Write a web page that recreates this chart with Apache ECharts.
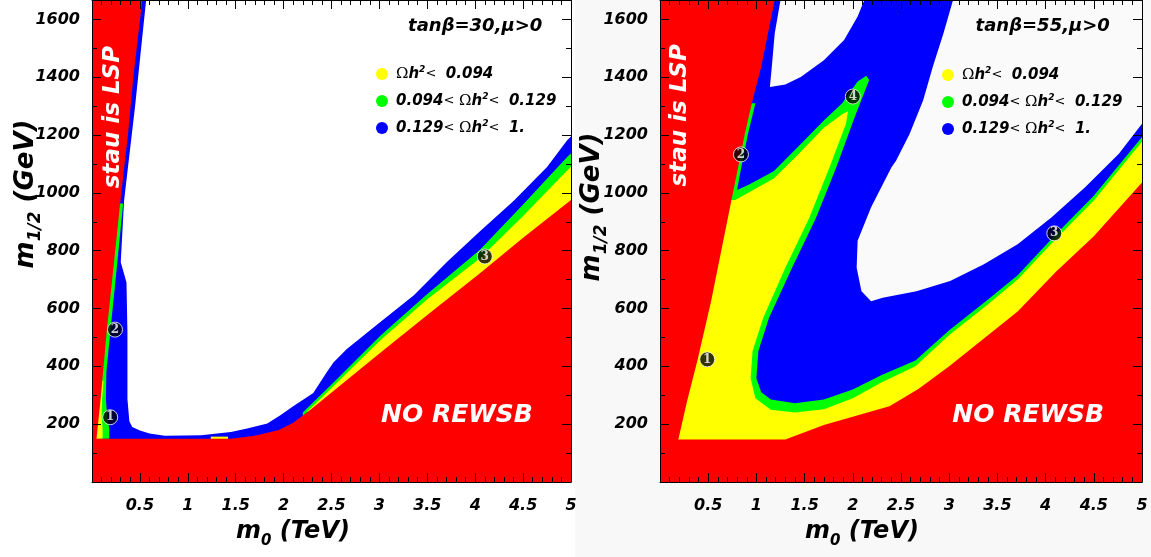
<!DOCTYPE html>
<html><head><meta charset="utf-8">
<script src="https://cdn.jsdelivr.net/npm/echarts@6/dist/echarts.min.js"></script>
<style>html,body{margin:0;padding:0;background:#fff}#c{width:1151px;height:557px}</style>
</head><body><div id="c"></div>
<script>
// ---------- axis ranges and tick labels ----------
const X_RANGE = [0, 5];
const Y_RANGE = [0, 1667];
const X_TICK_LABELS = ['0.5','1','1.5','2','2.5','3','3.5','4','4.5','5'];
const Y_TICK_LABELS = ['200','400','600','800','1000','1200','1400','1600'];
const LEG_NAMES = ['Ωh2 < 0.094', '0.094 < Ωh2 < 0.129', '0.129 < Ωh2 < 1.'];

// ---------- left panel (tanβ=30) region boundaries, [m0 TeV, m1/2 GeV] ----------
const L_blue = [[[0,0],[5,0],[5,1667],[0,1667]]];
const L_white = [[[0.565,1667],[0.45,1300],[0.335,974],[0.30,760],[0.33,725],[0.36,690],[0.37,515],[0.37,286],[0.39,210],[0.42,190],[0.5,178],[0.6,168],[0.76,160],[1.14,162],[1.45,173],[1.62,185],[1.83,202],[1.97,232],[2.1,262],[2.31,308],[2.45,380],[2.52,413],[2.66,460],[3.01,553],[3.36,646],[3.71,763],[4.05,867],[4.40,972],[4.75,1089],[4.96,1182],[5,1195],[5,1667]]];
const L_green = [
  [[0,150],[0,963],[0.325,963],[0.26,745],[0.19,515],[0.15,380],[0.145,286],[0.16,220],[0.18,185],[0.18,150]],
  [[2.2,0],[2.2,240],[2.5,337],[3.01,506],[3.5,650],[4.05,803],[4.5,960],[4.96,1124],[5,1137],[5,0]]
];
const L_yellow = [
  [[0,150],[0,350],[0.12,350],[0.105,286],[0.10,230],[0.11,185],[0.11,150]],
  [[2.25,0],[2.25,245],[2.5,325],[3.01,490],[3.5,632],[4.05,774],[4.5,920],[4.96,1077],[5,1090],[5,0]],
  [[1.24,145],[1.24,157],[1.42,157],[1.42,145]]
];
const L_red = [[[0,0],[5,0],[5,975],[4.5,845],[4.05,722],[3.5,578],[3.0,444],[2.28,250],[2.1,205],[1.95,180],[1.7,160],[1.45,150],[0.047,150],[0.09,286],[0.152,515],[0.225,745],[0.297,974],[0.375,1200],[0.433,1406],[0.525,1667],[0,1667]]];
const L_points = [[0.19,224,'1'],[0.24,527,'2'],[4.10,780,'3']];

// ---------- right panel (tanβ=55) region boundaries ----------
const R_blue = [[[0,0],[5,0],[5,1667],[0,1667]]];
const R_white = [
  [[1.25,1667],[1.19,1551],[1.16,1436],[1.14,1366],[1.30,1375],[1.46,1401],[1.70,1459],[1.91,1529],[2.05,1610],[2.12,1667]],
  [[3.04,1667],[2.94,1551],[2.83,1436],[2.73,1320],[2.59,1204],[2.45,1112],[2.40,1088],[2.19,950],[2.05,834],[2.04,741],[2.09,660],[2.19,625],[2.31,637],[2.66,660],[3.01,695],[3.36,753],[3.71,822],[4.06,915],[4.41,1019],[4.76,1135],[5,1239],[5,1667]]
];
const R_green = [[[0,0],[0,1310],[0.99,1310],[0.91,1200],[0.85,1100],[0.81,1030],[0.80,1010],[0.93,1030],[1.18,1075],[1.42,1155],[1.70,1250],[1.89,1310],[2.05,1385],[2.14,1405],[2.17,1390],[2.02,1262],[1.83,1089],[1.62,915],[1.37,741],[1.13,567],[1.02,452],[1.0,359],[1.05,310],[1.15,285],[1.4,272],[1.7,285],[2.0,320],[2.3,370],[2.65,420],[3.0,525],[3.4,630],[3.71,715],[4.11,858],[4.5,990],[5,1193],[5,0]]];
const R_yellow = [[[0,0],[0,975],[0.78,975],[0.93,1003],[1.18,1050],[1.42,1128],[1.70,1225],[1.89,1272],[1.95,1282],[1.93,1240],[1.76,1089],[1.55,915],[1.30,741],[1.07,567],[0.96,452],[0.94,359],[0.99,290],[1.15,250],[1.4,240],[1.7,252],[2.0,290],[2.3,345],[2.65,400],[3.0,508],[3.4,614],[3.71,700],[4.11,842],[4.5,974],[5,1178],[5,0]]];
const R_red = [[[0,0],[5,0],[5,1036],[4.5,850],[4.11,728],[3.71,590],[3.0,400],[2.68,322],[2.38,262],[1.70,197],[1.30,147],[0.19,147],[0.28,278],[0.39,423],[0.53,625],[0.67,857],[0.74,973],[0.81,1088],[0.88,1204],[0.96,1320],[1.05,1436],[1.19,1667],[0,1667]]];
const R_points = [[0.49,424,'1'],[0.84,1133,'2'],[4.09,860,'3'],[2.0,1333,'4']];

// ---------- annotations (data coordinates) ----------
const L_notes = {stau:[0.22,1262], rewsb:[3.81,230], title:[4.0,1575], titleText:'tanβ=30,μ>0'};
const R_notes = {stau:[0.21,1268], rewsb:[3.82,230], title:[3.97,1575], titleText:'tanβ=55,μ>0'};

const COLORS = {red:'#ff0000', yellow:'#ffff00', green:'#00ff00', blue:'#0000ff', white:'#ffffff', white2:'#fafafa'};
const FONT = 'DejaVu Sans';

function polySeries(name, polys, color, gi){
  return {
    type:'custom', name: name, xAxisIndex: gi*2, yAxisIndex: gi*2, coordinateSystem:'cartesian2d',
    silent:true, animation:false, clip:true, itemStyle:{color:color},
    data: polys.map(p => p[0]),
    renderItem: function(params, api){
      const poly = polys[params.dataIndex];
      return {type:'polygon', shape:{points: poly.map(pt => api.coord(pt))}, style:{fill:color, stroke:null}};
    }
  };
}
function pointSeries(pts, gi){
  return {
    type:'scatter', xAxisIndex: gi*2, yAxisIndex: gi*2, z:5, silent:true, symbol:'circle', symbolSize:15,
    itemStyle:{color:'#000', borderColor:'#fff', borderWidth:1},
    label:{show:true, position:'inside', formatter: p => p.data[2], color:'#fff', fontWeight:'bold', fontSize:12, fontFamily:'DejaVu Serif'},
    data: pts
  };
}
const labelStyle = {color:'#000', fontSize:16, fontWeight:'bold', fontStyle:'italic', fontFamily:FONT};
function mkX(gi, pos, show){
  return {type:'value', gridIndex:gi, position:pos, min:X_RANGE[0], max:X_RANGE[1], interval:0.5, z:10,
    axisLine:{show:true, onZero:false, lineStyle:{color:'#000', width:1}},
    axisTick:{show:true, inside:true, length:9, lineStyle:{color:'#000'}},
    minorTick:{show:true, splitNumber:5, length:5, lineStyle:{color:'#000'}},
    splitLine:{show:false}, minorSplitLine:{show:false},
    axisLabel: Object.assign({show:show, margin:16, formatter: v => { const s = String(+v.toFixed(2)); return X_TICK_LABELS.includes(s) ? s : ''; }}, labelStyle)
  };
}
function mkY(gi, pos, show){
  return {type:'value', gridIndex:gi, position:pos, min:Y_RANGE[0], max:Y_RANGE[1], interval:200, z:10,
    axisLine:{show:true, onZero:false, lineStyle:{color:'#000', width:1}},
    axisTick:{show:true, inside:true, length:9, lineStyle:{color:'#000'}},
    minorTick:{show:true, splitNumber:2, length:5, lineStyle:{color:'#000'}},
    splitLine:{show:false}, minorSplitLine:{show:false},
    axisLabel: Object.assign({show:show, margin:12, showMaxLabel:false, formatter: v => { const s = String(Math.round(v)); return (Y_TICK_LABELS.includes(s) && Math.abs(v-Math.round(v))<1e-6) ? s : ''; }}, labelStyle)
  };
}
const LEG_RICH = [
  '{om|Ω}{b|h}{sup|2}{r|<}  {b|0.094}',
  '{b|0.094}{r|<} {om|Ω}{b|h}{sup|2}{r|<}  {b|0.129}',
  '{b|0.129}{r|<} {om|Ω}{b|h}{sup|2}{r|<}  {b|1.}'
];
const RICH = {
  b:{fontFamily:FONT, fontWeight:'bold', fontStyle:'italic', fontSize:15, lineHeight:18, color:'#000'},
  om:{fontFamily:'DejaVu Serif', fontSize:15, lineHeight:18, color:'#000'},
  r:{fontFamily:FONT, fontSize:13, lineHeight:18, color:'#000'},
  sup:{fontFamily:FONT, fontWeight:'bold', fontStyle:'italic', fontSize:9, lineHeight:18, verticalAlign:'top', color:'#000'}
};
function mkLegend(left, top){
  return {left:left, top:top, orient:'vertical', icon:'circle', itemWidth:12, itemHeight:12, itemGap:9,
    selectedMode:false, data:LEG_NAMES, formatter: n => LEG_RICH[LEG_NAMES.indexOf(n)],
    textStyle:{fontFamily:FONT, fontSize:15, lineHeight:18, rich:RICH, padding:[0,0,0,3]}};
}

const chart = echarts.init(document.getElementById('c'), null, {renderer:'canvas'});
chart.setOption({
  animation:false, backgroundColor:'#ffffff',
  grid:[{left:92, top:0, width:479, height:482},{left:660, top:0, width:482, height:482}],
  xAxis:[mkX(0,'bottom',true), mkX(0,'top',false), mkX(1,'bottom',true), mkX(1,'top',false)],
  yAxis:[mkY(0,'left',true), mkY(0,'right',false), mkY(1,'left',true), mkY(1,'right',false)],
  legend:[mkLegend(371,60), mkLegend(937,61)],
  series:[
    polySeries(LEG_NAMES[2], L_blue, COLORS.blue, 0),
    polySeries('white', L_white, COLORS.white, 0),
    polySeries(LEG_NAMES[1], L_green, COLORS.green, 0),
    polySeries(LEG_NAMES[0], L_yellow, COLORS.yellow, 0),
    polySeries('red', L_red, COLORS.red, 0),
    pointSeries(L_points, 0),
    polySeries(LEG_NAMES[2], R_blue, COLORS.blue, 1),
    polySeries('white2', R_white, COLORS.white2, 1),
    polySeries(LEG_NAMES[1], R_green, COLORS.green, 1),
    polySeries(LEG_NAMES[0], R_yellow, COLORS.yellow, 1),
    polySeries('red2', R_red, COLORS.red, 1),
    pointSeries(R_points, 1)
  ]
});

// ---------- text annotations ----------
function P(gi, pt){ return chart.convertToPixel({gridIndex:gi}, pt); }
const yTitleRich = {
  m:{fontFamily:FONT, fontWeight:'bold', fontStyle:'italic', fontSize:26, lineHeight:36, color:'#000'},
  s:{fontFamily:FONT, fontWeight:'bold', fontStyle:'italic', fontSize:17, lineHeight:36, verticalAlign:'bottom', color:'#000'}
};
const xTitleRich = {
  m:{fontFamily:FONT, fontWeight:'bold', fontStyle:'italic', fontSize:24, lineHeight:34, color:'#000'},
  s:{fontFamily:FONT, fontWeight:'bold', fontStyle:'italic', fontSize:15, lineHeight:34, verticalAlign:'bottom', color:'#000'}
};
function noteTexts(gi, n){
  const s = P(gi, n.stau), r = P(gi, n.rewsb), t = P(gi, n.title);
  return [
    {type:'text', x:s[0], y:s[1], rotation:Math.PI/2, z:50, style:{text:'stau is LSP', fill:'#fff', font:'italic bold 23px "DejaVu Sans"', align:'center', verticalAlign:'middle'}},
    {type:'text', x:r[0], y:r[1], z:50, style:{text:'NO REWSB', fill:'#fff', font:'italic bold 25px "DejaVu Sans"', align:'center', verticalAlign:'middle'}},
    {type:'text', x:t[0], y:t[1], z:50, style:{text:n.titleText, fill:'#000', font:'italic bold 18px "DejaVu Sans"', align:'center', verticalAlign:'middle'}}
  ];
}
const g = [
  {type:'rect', z:-10, shape:{x:575, y:0, width:576, height:557}, style:{fill:'#f8f8f8'}},
  ...noteTexts(0, L_notes), ...noteTexts(1, R_notes),
  {type:'text', x:26, y:194, rotation:Math.PI/2, z:50, style:{text:'{m|m}{s|1/2}{m| (GeV)}', rich:yTitleRich, align:'center', verticalAlign:'middle'}},
  {type:'text', x:592, y:207, rotation:Math.PI/2, z:50, style:{text:'{m|m}{s|1/2}{m| (GeV)}', rich:yTitleRich, align:'center', verticalAlign:'middle'}},
  {type:'text', x:293, y:532, z:50, style:{text:'{m|m}{s|0}{m| (TeV)}', rich:xTitleRich, align:'center', verticalAlign:'middle'}},
  {type:'text', x:862, y:532, z:50, style:{text:'{m|m}{s|0}{m| (TeV)}', rich:xTitleRich, align:'center', verticalAlign:'middle'}}
];
chart.setOption({graphic:g});
</script></body></html>
